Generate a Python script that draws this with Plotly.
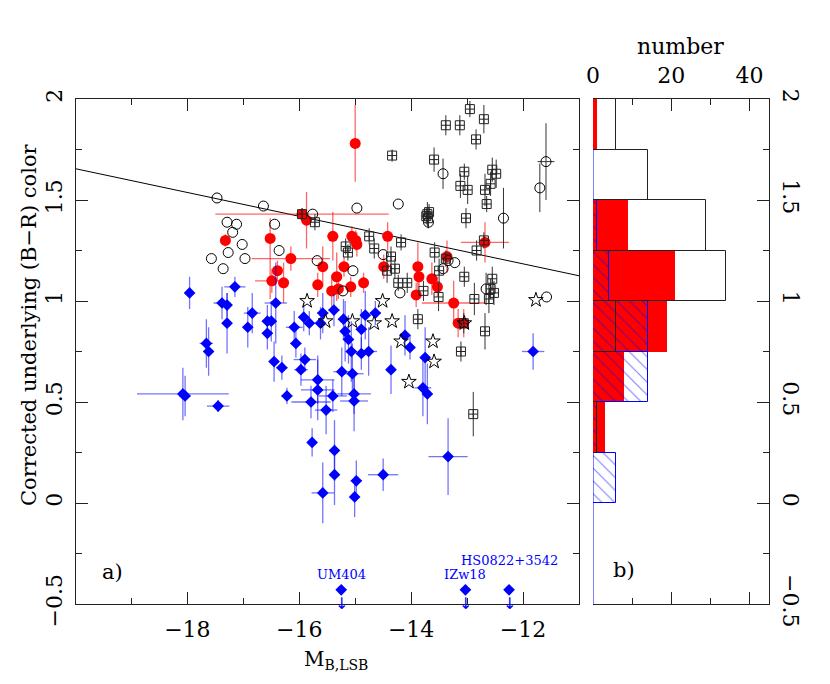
import plotly.graph_objects as go

# ---------------- data ----------------
# red filled circles
red_x = [-15.95, -15.87, -17.32, -16.52, -16.15, -16.39, -16.49, -16.28, -15.40, -15.06, -14.99,
         -14.97, -14.42, -15.58, -15.20, -15.33, -15.67, -15.42, -15.30, -15.08, -14.85, -14.49,
         -15.00, -13.88, -13.86, -13.63, -13.53, -13.91, -13.36, -13.24, -13.16, -13.06, -12.68]
red_y = [1.43, 1.40, 1.30, 1.31, 1.21, 1.15, 1.10, 1.09, 1.32, 1.32, 1.30,
         1.28, 1.32, 1.17, 1.17, 1.12, 1.08, 1.05, 1.06, 1.07, 1.09, 1.17,
         1.78, 1.17, 1.12, 1.11, 1.07, 1.03, 1.22, 0.99, 0.89, 0.89, 1.29]
red_xerr = [1.55, 0.05, 0.0, 0.05, 0.70, 0.10, 0.30, 0.10, 0.10, 0.05, 0.05,
            0.05, 0.05, 0.05, 0.10, 0.05, 0.05, 0.05, 0.05, 0.05, 0.05, 0.05,
            0.0, 0.05, 0.05, 0.05, 0.05, 0.05, 0.05, 0.57, 0.05, 0.05, 0.43]
red_yerr_up = [0.03, 0.14, 0.03, 0.10, 0.06, 0.05, 0.06, 0.10, 0.12, 0.05, 0.05,
               0.06, 0.07, 0.10, 0.05, 0.12, 0.06, 0.08, 0.05, 0.05, 0.05, 0.06,
               0.19, 0.12, 0.05, 0.08, 0.05, 0.06, 0.08, 0.11, 0.07, 0.07, 0.10]
red_yerr_dn = [0.03, 0.14, 0.03, 0.30, 0.06, 0.05, 0.06, 0.10, 0.12, 0.05, 0.05,
               0.06, 0.07, 0.10, 0.05, 0.12, 0.06, 0.08, 0.05, 0.05, 0.05, 0.06,
               0.19, 0.12, 0.05, 0.08, 0.05, 0.06, 0.08, 0.11, 0.07, 0.07, 0.10]

# black open circles
circ_x = [-17.47, -16.64, -17.29, -17.12, -17.19, -16.44, -17.02, -17.27, -17.57, -16.97, -17.36,
          -16.36, -15.76, -15.68, -14.97, -14.23, -15.04, -15.22, -14.50, -14.20, -13.69, -12.35,
          -13.43, -13.22, -13.34, -12.66, -11.58, -13.43, -11.59, -11.70]
circ_y = [1.51, 1.47, 1.39, 1.38, 1.34, 1.38, 1.28, 1.24, 1.21, 1.21, 1.16,
          1.25, 1.43, 1.20, 1.46, 1.48, 1.15, 1.05, 1.23, 1.04, 1.39, 1.41,
          1.16, 1.19, 1.20, 1.06, 1.02, 1.63, 1.69, 1.56]
circ_xerr = [0, 0, 0, 0, 0, 0, 0, 0, 0, 0, 0,
             0, 0, 0, 0, 0, 0, 0, 0, 0, 0, 0,
             0, 0, 0, 0, 0, 0, 0.15, 0]
circ_yerr = [0, 0, 0, 0, 0, 0, 0, 0, 0, 0, 0,
             0, 0, 0, 0, 0, 0, 0, 0, 0, 0.03, 0.15,
             0, 0, 0, 0.08, 0, 0.075, 0.19, 0.12]

# black open squares
sq_x = [-12.95, -13.38, -13.13, -12.70, -12.84, -14.34, -13.59, -13.05, -13.12, -12.99, -12.55,
        -12.48, -12.58, -12.68, -12.65, -13.02, -13.71, -13.73, -13.68, -13.70, -15.72, -15.95,
        -15.17, -15.13, -14.75, -14.66, -14.18, -14.36, -14.43, -14.29, -14.23, -14.07, -13.58,
        -13.38, -13.50, -12.83, -13.05, -12.55, -13.78, -13.51, -12.87, -12.61, -12.52, -12.58,
        -12.70, -13.88, -13.06, -12.68, -13.11, -12.89]
sq_y = [1.95, 1.87, 1.87, 1.90, 1.80, 1.72, 1.70, 1.64, 1.57, 1.55, 1.65,
        1.63, 1.58, 1.55, 1.48, 1.41, 1.43, 1.42, 1.44, 1.41, 1.39, 1.43,
        1.27, 1.24, 1.32, 1.26, 1.29, 1.22, 1.15, 1.16, 1.09, 1.09, 1.24,
        1.21, 1.15, 1.25, 1.12, 1.11, 1.05, 1.02, 1.01, 1.01, 1.04, 1.06,
        1.30, 0.91, 0.89, 0.85, 0.75, 0.44]
sq_yerr = [0.04, 0.05, 0.05, 0.07, 0.05, 0.03, 0.06, 0.04, 0.06, 0.07, 0.06,
           0.07, 0.06, 0.08, 0.04, 0.05, 0.06, 0.04, 0.04, 0.05, 0.04, 0.03,
           0.04, 0.04, 0.04, 0.05, 0.04, 0.05, 0.06, 0.05, 0.04, 0.05, 0.05,
           0.04, 0.06, 0.05, 0.05, 0.06, 0.05, 0.07, 0.08, 0.07, 0.06, 0.05,
           0.04, 0.05, 0.05, 0.09, 0.05, 0.11]

# open stars
star_x = [-15.86, -14.51, -15.53, -15.05, -14.66, -14.34, -11.77, -14.18, -13.61, -13.59, -14.04, -13.05]
star_y = [1.00, 1.00, 0.90, 0.90, 0.89, 0.90, 1.005, 0.80, 0.80, 0.70, 0.60, 0.89]

# blue filled diamonds
blue_x = [-17.96, -17.15, -17.38, -17.29, -17.29, -16.84, -16.92, -16.57, -16.50, -16.57, -16.42,
          -16.09, -15.92, -15.82, -16.06, -17.66, -17.62, -15.90, -16.45, -16.31, -15.97, -18.08,
          -18.04, -17.45, -16.22, -15.79, -15.77, -15.67, -15.67, -15.62, -15.58, -15.38, -15.21,
          -15.18, -15.12, -14.89, -14.82, -14.64, -15.07, -14.89, -14.76, -15.24, -15.05, -14.36,
          -15.40, -15.52, -15.02, -15.02, -14.11, -14.02, -13.75, -13.79, -13.71, -15.37, -15.37,
          -15.58, -14.98, -15.01, -14.50, -13.34, -11.82]
blue_y = [1.04, 1.07, 0.99, 0.98, 0.89, 0.94, 0.87, 0.90, 0.90, 0.84, 0.99,
          0.87, 0.92, 0.89, 0.79, 0.79, 0.75, 0.71, 0.70, 0.67, 0.66, 0.54,
          0.53, 0.48, 0.53, 0.50, 0.30, 0.61, 0.56, 0.89, 0.94, 0.955, 0.91,
          0.85, 0.81, 0.86, 0.93, 0.94, 0.75, 0.74, 0.75, 0.65, 0.64, 0.66,
          0.53, 0.46, 0.54, 0.505, 0.83, 0.77, 0.72, 0.57, 0.54, 0.26, 0.14,
          0.05, 0.11, 0.03, 0.14, 0.23, 0.75]
blue_xerr = [0.05, 0.19, 0.15, 0.05, 0.05, 0.15, 0.05, 0.10, 0.05, 0.10, 0.20,
             0.15, 0.10, 0.10, 0.10, 0.12, 0.05, 0.20, 0.08, 0.10, 0.12, 0.82,
             0.10, 0.20, 0.10, 0.35, 0.05, 0.30, 0.30, 0.10, 0.10, 0.10, 0.10,
             0.05, 0.10, 0.10, 0.08, 0.10, 0.10, 0.10, 0.15, 0.15, 0.20, 0.05,
             0.25, 0.20, 0.30, 0.25, 0.10, 0.05, 0.08, 0.15, 0.05, 0.05, 0.05,
             0.20, 0.10, 0.05, 0.27, 0.35, 0.20]
blue_yerr = [0.08, 0.05, 0.08, 0.06, 0.15, 0.10, 0.10, 0.08, 0.10, 0.08, 0.20,
             0.08, 0.07, 0.06, 0.07, 0.12, 0.12, 0.06, 0.10, 0.06, 0.08, 0.13,
             0.10, 0.03, 0.04, 0.08, 0.07, 0.12, 0.15, 0.08, 0.10, 0.08, 0.10,
             0.15, 0.12, 0.10, 0.12, 0.06, 0.15, 0.08, 0.12, 0.12, 0.15, 0.12,
             0.08, 0.12, 0.10, 0.15, 0.10, 0.06, 0.15, 0.14, 0.15, 0.15, 0.15,
             0.15, 0.10, 0.10, 0.08, 0.19, 0.09]

# upper limits (labelled)
lim_x = [-15.25, -13.03, -12.25]
lim_y = [-0.43, -0.43, -0.43]
lim_names = ["UM404", "IZw18", "HS0822+3542"]
lim_label_y = [-0.356, -0.356, -0.286]

# fitted line
fit_x = [-20.0, -11.0]
fit_y = [1.655, 1.125]

# histogram (panel b), bins of 0.25 in colour
bin_centers = [-0.375, -0.125, 0.125, 0.375, 0.625, 0.875, 1.125, 1.375, 1.625, 1.875]
hist_red = [0, 0, 0, 3, 8, 19, 21, 9, 0, 1]
hist_blue = [0, 0, 6, 1, 14, 14, 4, 1, 0, 0]
hist_black = [0, 0, 0, 1, 0, 6, 34, 29, 14, 6]

# ---------------- figure ----------------
FONT = "DejaVu Serif"
W, H = 830, 684
BLUE = "#0000ff"
RED = "#ff0000"

fig = go.Figure()

fig.add_trace(go.Scatter(x=fit_x, y=fit_y, mode="lines",
                         line=dict(color="black", width=1), hoverinfo="skip", showlegend=False))

fig.add_trace(go.Scatter(
    x=red_x, y=red_y, mode="markers", showlegend=False,
    marker=dict(symbol="circle", size=11, color=RED, line=dict(width=0)),
    error_x=dict(type="data", array=red_xerr, color="rgba(255,0,0,0.6)", thickness=1.3, width=0),
    error_y=dict(type="data", array=red_yerr_up, arrayminus=red_yerr_dn,
                 color="rgba(255,0,0,0.6)", thickness=1.3, width=0)))

fig.add_trace(go.Scatter(
    x=blue_x, y=blue_y, mode="markers", showlegend=False,
    marker=dict(symbol="diamond", size=9, color=BLUE, line=dict(width=0)),
    error_x=dict(type="data", array=blue_xerr, color="rgba(0,0,255,0.55)", thickness=1.3, width=0),
    error_y=dict(type="data", array=blue_yerr, color="rgba(0,0,255,0.55)", thickness=1.3, width=0)))

fig.add_trace(go.Scatter(
    x=circ_x, y=circ_y, mode="markers", showlegend=False,
    marker=dict(symbol="circle-open", size=10, color="black", line=dict(width=1, color="black")),
    error_x=dict(type="data", array=circ_xerr, color="#333", thickness=1, width=0),
    error_y=dict(type="data", array=circ_yerr, color="#333", thickness=1, width=0)))

fig.add_trace(go.Scatter(
    x=sq_x, y=sq_y, mode="markers", showlegend=False,
    marker=dict(symbol="square-cross-open", size=9, color="#222", line=dict(width=1, color="#222")),
    error_y=dict(type="data", array=sq_yerr, color="#333", thickness=1, width=0)))

fig.add_trace(go.Scatter(
    x=star_x, y=star_y, mode="markers", showlegend=False,
    marker=dict(symbol="star-open", size=11, color="black", line=dict(width=1, color="black"))))

fig.add_trace(go.Scatter(
    x=lim_x, y=lim_y, mode="markers", showlegend=False,
    marker=dict(symbol="diamond", size=9, color=BLUE, line=dict(width=0))))

# histogram
fig.add_trace(go.Bar(y=bin_centers, x=hist_red, orientation="h", width=0.25,
                     xaxis="x2", yaxis="y2", showlegend=False,
                     marker=dict(color=RED, line=dict(width=0))))
fig.add_trace(go.Bar(y=bin_centers, x=hist_blue, orientation="h", width=0.25,
                     xaxis="x2", yaxis="y2", showlegend=False,
                     marker=dict(color="rgba(0,0,0,0)", line=dict(color=BLUE, width=1),
                                 pattern=dict(shape="\\", fgcolor=BLUE, bgcolor="rgba(0,0,0,0)",
                                              size=9, solidity=0.12))))
fig.add_trace(go.Bar(y=bin_centers, x=hist_black, orientation="h", width=0.25,
                     xaxis="x2", yaxis="y2", showlegend=False,
                     marker=dict(color="rgba(0,0,0,0)", line=dict(color="#222", width=1))))

px2x = lambda p: p / W
py2y = lambda p: (H - p) / H

main_dom_x = [px2x(75.5), px2x(579)]
dom_y = [py2y(604), py2y(99)]
hist_dom_x = [px2x(593), px2x(769)]

tickfont = dict(family=FONT, size=22, color="black")
common = dict(showgrid=False, zeroline=False, showline=True, linecolor="#222", linewidth=1,
              ticks="inside", tickcolor="#222", tickwidth=1, tickfont=tickfont, automargin=False)

fig.update_layout(
    width=W, height=H, margin=dict(l=0, r=0, t=0, b=0, pad=0),
    paper_bgcolor="white", plot_bgcolor="rgba(0,0,0,0)",
    barmode="overlay", bargap=0,
    xaxis=dict(domain=main_dom_x, range=[-19.999, -11], dtick=2, tick0=0, ticklen=12,
               mirror="allticks", ticklabelstandoff=6,
               minor=dict(dtick=1, ticklen=6, ticks="inside", tickcolor="#222"), **common),
    yaxis=dict(domain=dom_y, range=[-0.5, 2], dtick=0.5, tick0=0, ticklen=12,
               mirror="allticks", tickangle=-90, ticklabelstandoff=4,
               minor=dict(dtick=0.25, ticklen=6, ticks="inside", tickcolor="#222"), **common),
    xaxis2=dict(domain=hist_dom_x, range=[0, 45], anchor="y2", side="top", dtick=20, tick0=0,
                ticklen=12, mirror="allticks", ticklabelstandoff=6,
                minor=dict(dtick=10, ticklen=6, ticks="inside", tickcolor="#222"), **common),
    yaxis2=dict(domain=dom_y, range=[-0.5, 2], anchor="x2", side="right", dtick=0.5, tick0=0,
                ticklen=12, mirror=False, tickangle=90, ticklabelstandoff=4,
                minor=dict(dtick=0.25, ticklen=6, ticks="inside", tickcolor="#222"), **common),
)

annotations = []
# upper-limit arrows and labels
for xv, yv, name, ly in zip(lim_x, lim_y, lim_names, lim_label_y):
    annotations.append(dict(x=xv, y=yv - 0.01, xref="x", yref="y", text="\u2193",
                            xanchor="center", yanchor="top", showarrow=False,
                            font=dict(family="DejaVu Sans", size=16, color=BLUE)))
    annotations.append(dict(x=xv, y=ly, xref="x", yref="y", text=name, showarrow=False,
                            xanchor="center", yanchor="middle",
                            font=dict(family=FONT, size=13, color=BLUE)))

def label(px, py, text, size, angle=0):
    return dict(x=px2x(px), y=py2y(py), xref="paper", yref="paper", text=text,
                xanchor="center", yanchor="middle", textangle=angle, showarrow=False,
                font=dict(family=FONT, size=size, color="black"))

annotations += [
    label(29, 325, "Corrected underlying (B\u2212R) color", 21, -90),
    label(336, 660, "M<sub>B,LSB</sub>", 20),
    label(680, 46, "number", 22),
    label(112, 572, "a)", 21),
    label(624, 570, "b)", 21),
]
fig.update_layout(annotations=annotations)

# blue zero line at left of histogram
fig.add_shape(type="line", xref="x2", yref="y2", x0=0, x1=0, y0=-0.5, y1=2,
              line=dict(color=BLUE, width=1), layer="below")

fig.write_html("out.html", config={"displayModeBar": False},
               post_script="document.body.style.margin='0px';")
